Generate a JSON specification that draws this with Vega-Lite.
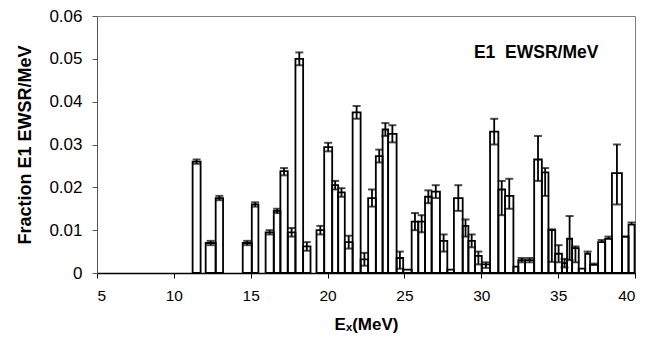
{
  "$schema": "https://vega.github.io/schema/vega-lite/v6.json",
  "width": 538,
  "height": 257,
  "autosize": "none",
  "padding": {"left": 97, "right": 11, "top": 16, "bottom": 64},
  "background": "white",
  "config": {
    "font": "Liberation Sans",
    "view": {"stroke": "#7f7f7f", "strokeWidth": 1}
  },
  "data": {
    "values": [
      {"x0": 11.22, "x1": 11.74, "v": 0.026, "lo": 0.0255, "hi": 0.0265},
      {"x0": 12.07, "x1": 12.72, "v": 0.007, "lo": 0.0065, "hi": 0.0075},
      {"x0": 12.72, "x1": 13.2, "v": 0.0175, "lo": 0.017, "hi": 0.018},
      {"x0": 14.48, "x1": 15.07, "v": 0.007, "lo": 0.0065, "hi": 0.0075},
      {"x0": 15.07, "x1": 15.5, "v": 0.016, "lo": 0.0155, "hi": 0.0165},
      {"x0": 15.97, "x1": 16.5, "v": 0.0095, "lo": 0.009, "hi": 0.01},
      {"x0": 16.5, "x1": 16.93, "v": 0.0145, "lo": 0.014, "hi": 0.015},
      {"x0": 16.93, "x1": 17.41, "v": 0.0238, "lo": 0.0228, "hi": 0.0245},
      {"x0": 17.41, "x1": 17.91, "v": 0.0095, "lo": 0.0085, "hi": 0.0105},
      {"x0": 17.91, "x1": 18.41, "v": 0.05, "lo": 0.0485, "hi": 0.0515},
      {"x0": 18.41, "x1": 18.89, "v": 0.0062, "lo": 0.0052, "hi": 0.0072},
      {"x0": 19.28, "x1": 19.78, "v": 0.01, "lo": 0.009, "hi": 0.011},
      {"x0": 19.78, "x1": 20.3, "v": 0.0294, "lo": 0.0284, "hi": 0.0304},
      {"x0": 20.3, "x1": 20.69, "v": 0.0205, "lo": 0.0195, "hi": 0.0215},
      {"x0": 20.69, "x1": 21.12, "v": 0.0188, "lo": 0.0178, "hi": 0.0198},
      {"x0": 21.12, "x1": 21.63, "v": 0.0072, "lo": 0.0057, "hi": 0.0087},
      {"x0": 21.63, "x1": 22.15, "v": 0.0375, "lo": 0.036, "hi": 0.039},
      {"x0": 22.15, "x1": 22.64, "v": 0.0032, "lo": 0.0017, "hi": 0.0047},
      {"x0": 22.64, "x1": 23.14, "v": 0.0175, "lo": 0.0155, "hi": 0.0195},
      {"x0": 23.14, "x1": 23.58, "v": 0.0273, "lo": 0.0258, "hi": 0.0288},
      {"x0": 23.58, "x1": 23.94, "v": 0.0335, "lo": 0.032, "hi": 0.035},
      {"x0": 23.94, "x1": 24.49, "v": 0.0325, "lo": 0.0305, "hi": 0.0345},
      {"x0": 24.49, "x1": 24.92, "v": 0.0035, "lo": 0.001, "hi": 0.005},
      {"x0": 24.92, "x1": 25.47, "v": 0.0008, "lo": null, "hi": null},
      {"x0": 25.47, "x1": 25.9, "v": 0.012, "lo": 0.01, "hi": 0.014},
      {"x0": 25.9, "x1": 26.34, "v": 0.012, "lo": 0.0095, "hi": 0.0135},
      {"x0": 26.34, "x1": 26.77, "v": 0.0178, "lo": 0.0163, "hi": 0.0193},
      {"x0": 26.77, "x1": 27.31, "v": 0.019, "lo": 0.0175, "hi": 0.0205},
      {"x0": 27.31, "x1": 27.79, "v": 0.0075, "lo": 0.005, "hi": 0.009},
      {"x0": 27.79, "x1": 28.22, "v": 0.0008, "lo": null, "hi": null},
      {"x0": 28.22, "x1": 28.79, "v": 0.0175, "lo": 0.0145, "hi": 0.0205},
      {"x0": 28.79, "x1": 29.16, "v": 0.011, "lo": 0.0085, "hi": 0.0125},
      {"x0": 29.16, "x1": 29.59, "v": 0.0075, "lo": 0.006, "hi": 0.009},
      {"x0": 29.59, "x1": 30.03, "v": 0.004, "lo": 0.002, "hi": 0.005},
      {"x0": 30.03, "x1": 30.57, "v": 0.002, "lo": 0.0012, "hi": 0.0025},
      {"x0": 30.57, "x1": 31.11, "v": 0.033, "lo": 0.03, "hi": 0.036},
      {"x0": 31.11, "x1": 31.55, "v": 0.0195, "lo": 0.0135, "hi": 0.0215},
      {"x0": 31.55, "x1": 32.09, "v": 0.018, "lo": 0.015, "hi": 0.022},
      {"x0": 32.09, "x1": 32.41, "v": 0.0015, "lo": null, "hi": null},
      {"x0": 32.41, "x1": 32.85, "v": 0.003, "lo": 0.0025, "hi": 0.0035},
      {"x0": 32.85, "x1": 33.44, "v": 0.003, "lo": 0.0025, "hi": 0.0035},
      {"x0": 33.44, "x1": 33.94, "v": 0.0265, "lo": 0.0215, "hi": 0.032},
      {"x0": 33.94, "x1": 34.37, "v": 0.0235, "lo": 0.018, "hi": 0.0245},
      {"x0": 34.37, "x1": 34.81, "v": 0.01, "lo": 0.0026, "hi": 0.0102},
      {"x0": 34.81, "x1": 35.25, "v": 0.0045, "lo": 0.0025, "hi": 0.0065},
      {"x0": 35.25, "x1": 35.58, "v": 0.0023, "lo": 0.0013, "hi": 0.0033},
      {"x0": 35.58, "x1": 35.91, "v": 0.008, "lo": 0.003, "hi": 0.0133},
      {"x0": 35.91, "x1": 36.34, "v": 0.0058, "lo": 0.0025, "hi": 0.0062},
      {"x0": 36.34, "x1": 36.76, "v": 0.001, "lo": null, "hi": null},
      {"x0": 36.76, "x1": 37.08, "v": 0.0045, "lo": 0.0045, "hi": 0.005},
      {"x0": 37.08, "x1": 37.6, "v": 0.0019, "lo": 0.0019, "hi": 0.0022},
      {"x0": 37.6, "x1": 38.06, "v": 0.0072, "lo": 0.0072, "hi": 0.0077},
      {"x0": 38.06, "x1": 38.5, "v": 0.008, "lo": 0.008, "hi": 0.0085},
      {"x0": 38.5, "x1": 39.15, "v": 0.0233, "lo": 0.016, "hi": 0.03},
      {"x0": 39.15, "x1": 39.58, "v": 0.0085, "lo": 0.0085, "hi": 0.0085},
      {"x0": 39.58, "x1": 39.97, "v": 0.0113, "lo": 0.0113, "hi": 0.0118}
    ]
  },
  "transform": [{"calculate": "(datum.x0 + datum.x1) / 2", "as": "xc"}],
  "layer": [
    {
      "mark": {"type": "bar", "fill": "white", "fillOpacity": 0, "stroke": "black", "strokeWidth": 1.8},
      "encoding": {
        "x": {
          "field": "x0", "type": "quantitative",
          "scale": {"domain": [5, 40], "nice": false, "zero": false},
          "axis": {
            "values": [5, 10, 15, 20, 25, 30, 35, 40],
            "grid": false,
            "domainColor": "black", "domainWidth": 1.6,
            "tickColor": "black", "tickSize": 5, "tickWidth": 1,
            "labelFont": "Liberation Sans", "labelFontSize": 15.5, "labelColor": "black",
            "labelPadding": 10,
            "title": "Eₓ(MeV)",
            "titleFont": "Liberation Sans", "titleFontSize": 17, "titleFontWeight": "bold",
            "titleColor": "black", "titlePadding": 13
          }
        },
        "x2": {"field": "x1"},
        "y": {
          "field": "v", "type": "quantitative",
          "scale": {"domain": [0, 0.06], "nice": false},
          "axis": {
            "values": [0, 0.01, 0.02, 0.03, 0.04, 0.05, 0.06],
            "labelExpr": "datum.value == 0 ? '0' : format(datum.value, '.2f')",
            "grid": false,
            "domainColor": "#555555", "domainWidth": 1,
            "tickColor": "#555555", "tickSize": 5,
            "labelFont": "Liberation Sans", "labelFontSize": 17, "labelColor": "black",
            "labelPadding": 10,
            "title": "Fraction E1 EWSR/MeV",
            "titleFont": "Liberation Sans", "titleFontSize": 18, "titleFontWeight": "bold",
            "titleColor": "black", "titlePadding": 14
          }
        },
        "y2": {"datum": 0}
      }
    },
    {
      "transform": [{"filter": "datum.lo != null"}],
      "mark": {"type": "rule", "color": "black", "strokeWidth": 1.8},
      "encoding": {
        "x": {"field": "xc", "type": "quantitative"},
        "y": {"field": "lo", "type": "quantitative"},
        "y2": {"field": "hi"}
      }
    },
    {
      "transform": [{"filter": "datum.lo != null"}],
      "mark": {"type": "tick", "orient": "horizontal", "color": "black", "size": 8, "thickness": 2},
      "encoding": {
        "x": {"field": "xc", "type": "quantitative"},
        "y": {"field": "hi", "type": "quantitative"}
      }
    },
    {
      "transform": [{"filter": "datum.lo != null && datum.lo < datum.v"}],
      "mark": {"type": "tick", "orient": "horizontal", "color": "black", "size": 8, "thickness": 2},
      "encoding": {
        "x": {"field": "xc", "type": "quantitative"},
        "y": {"field": "lo", "type": "quantitative"}
      }
    },
    {
      "data": {"values": [{"note": "E1\u00a0 EWSR/MeV"}]},
      "mark": {"type": "text", "font": "Liberation Sans", "fontSize": 17.5, "fontWeight": "bold", "color": "black", "align": "center", "baseline": "alphabetic"},
      "encoding": {
        "text": {"field": "note"},
        "x": {"datum": 33.57, "type": "quantitative"},
        "y": {"datum": 0.0502, "type": "quantitative"}
      }
    }
  ]
}
